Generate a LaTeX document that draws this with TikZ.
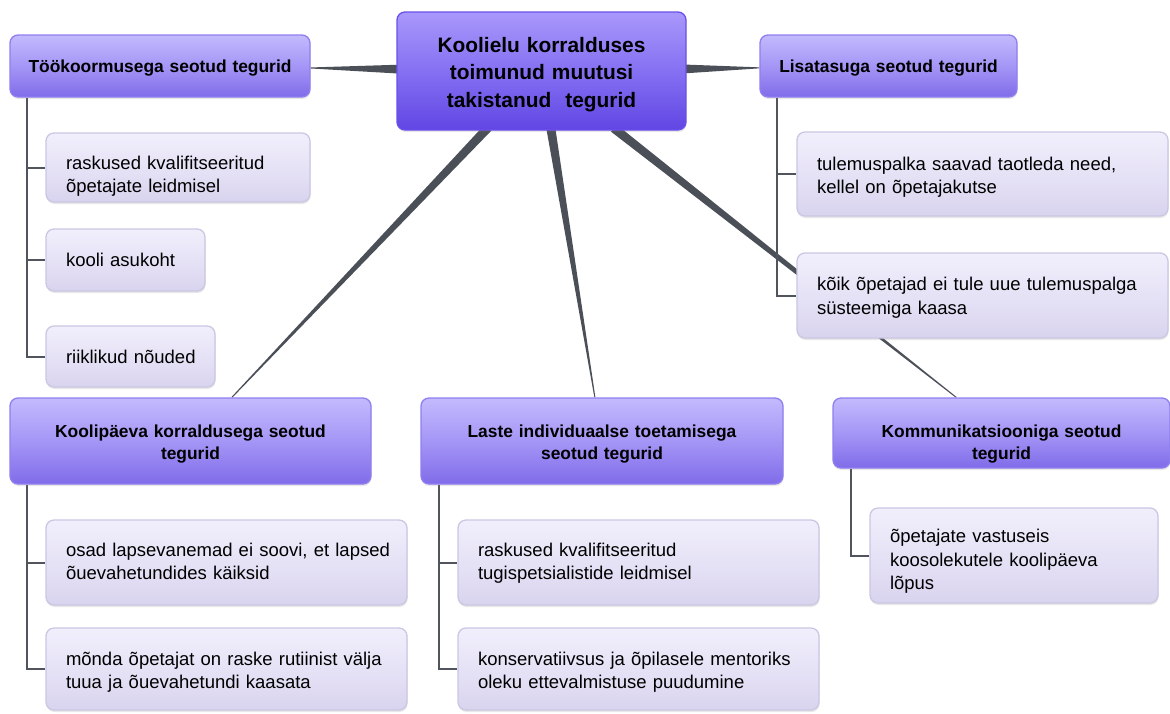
\documentclass[tikz,border=0pt]{standalone}
\usepackage{fontspec}
\setmainfont{Liberation Sans}
\usetikzlibrary{calc,backgrounds,shadows}
\definecolor{conn}{HTML}{4B4F58}
\definecolor{trunkc}{HTML}{50545C}
\definecolor{hdrT}{HTML}{C3BAFD}
\definecolor{hdrM}{HTML}{A496F6}
\definecolor{hdrBo}{HTML}{806CE9}
\definecolor{hdrB}{HTML}{8E7FF0}
\definecolor{ctrT}{HTML}{A998FB}
\definecolor{ctrM}{HTML}{8570F2}
\definecolor{ctrBo}{HTML}{6146E4}
\definecolor{ctrB}{HTML}{6A50EA}
\definecolor{leafT}{HTML}{F1EFFC}
\definecolor{leafM}{HTML}{E6E2F6}
\definecolor{leafBo}{HTML}{D9D4EE}
\definecolor{leafB}{HTML}{CCC6E3}
\newcommand\taper[2]{%
  \path (c) -- (#2) coordinate[pos=0] (cs#1) coordinate[pos=1] (ct#1);
  \fill[conn] ($(cs#1)!-4pt!(ct#1)$) coordinate (cu#1)
    ($(cu#1)!4.5pt!90:(ct#1)$) -- ($(ct#1)!0.5pt!-90:(cu#1)$) -- ($(ct#1)!0.5pt!90:(cu#1)$) -- ($(cu#1)!4.5pt!-90:(ct#1)$) -- cycle;}
\newcommand\oneline[1]{\mbox{#1}}
\begin{document}
\begin{tikzpicture}[x=1pt,y=-1pt,
  base/.style={rounded corners=8pt, inner sep=0pt, line width=1.3pt,
    drop shadow={shadow xshift=0.5pt,shadow yshift=-2pt,opacity=0.18}},
  hdr/.style={base, draw=hdrB, top color=hdrT, bottom color=hdrBo, middle color=hdrM,
    font=\bfseries\fontsize{17.4}{22.5}\selectfont, align=center},
  ctr/.style={base, draw=ctrB, top color=ctrT, bottom color=ctrBo, middle color=ctrM,
    font=\bfseries\fontsize{20.9}{27.5}\selectfont, align=center},
  leaf/.style={base, draw=leafB, top color=leafT, bottom color=leafBo, middle color=leafM,
    font=\fontsize{18.5}{23.5}\selectfont, align=left, inner xsep=20pt},
  trunk/.style={draw=trunkc, line width=2pt}]
\useasboundingbox (0,0) rectangle (1170,713);
% central node
\node[ctr, minimum width=289pt, minimum height=118pt, text width=280pt, text depth=52.4pt] (c) at (541.5,71)
  {Koolielu korralduses\\toimunud muutusi\\takistanud~ tegurid};
% headers
\node[hdr, minimum width=300pt, minimum height=62pt, text width=290pt, text depth=-1pt] (h1) at (160,66) {Töökoormusega seotud tegurid};
\node[hdr, minimum width=257pt, minimum height=62pt, text width=250pt, text depth=-1pt] (h2) at (888.5,66) {Lisatasuga seotud tegurid};
\node[hdr, minimum width=361pt, minimum height=86pt, text width=350pt, text depth=20.2pt] (h3) at (190.5,441) {Koolipäeva korraldusega seotud\\tegurid};
\node[hdr, minimum width=362pt, minimum height=86pt, text width=350pt, text depth=20.2pt] (h4) at (602,441) {Laste individuaalse toetamisega\\seotud tegurid};
\node[hdr, minimum width=337pt, minimum height=70pt, text width=330pt, text depth=4.2pt] (h5) at (1001.5,433) {Kommunikatsiooniga seotud\\tegurid};
% leaves
\node[leaf, minimum height=69pt, text width=224pt, text depth=10pt] (l1) at (178,167.5) {\oneline{raskused kvalifitseeritud}\\\oneline{õpetajate leidmisel}};
\node[leaf, minimum height=62pt, text width=119pt, text depth=-1pt] (l2) at (125.5,260) {\oneline{kooli asukoht}};
\node[leaf, minimum height=61pt, text width=129pt, text depth=-1pt] (l3) at (130.5,356.5) {\oneline{riiklikud nõuded}};
\node[leaf, minimum height=84pt, text width=331pt, text depth=21.4pt] (r1) at (982.5,174) {\oneline{tulemuspalka saavad taotleda need,}\\\oneline{kellel on õpetajakutse}};
\node[leaf, minimum height=85pt, text width=331pt, text depth=23.4pt] (r2) at (982.5,295.5) {\oneline{kõik õpetajad ei tule uue tulemuspalga}\\\oneline{süsteemiga kaasa}};
\node[leaf, minimum height=85pt, text width=321pt, text depth=26pt] (k1) at (226.5,562.5) {\oneline{osad lapsevanemad ei soovi, et lapsed}\\\oneline{õuevahetundides käiksid}};
\node[leaf, minimum height=82pt, text width=321pt, text depth=21.4pt] (k2) at (226.5,669) {\oneline{mõnda õpetajat on raske rutiinist välja}\\\oneline{tuua ja õuevahetundi kaasata}};
\node[leaf, minimum height=85pt, text width=321pt, text depth=26pt] (s1) at (638.5,562.5) {\oneline{raskused kvalifitseeritud}\\\oneline{tugispetsialistide leidmisel}};
\node[leaf, minimum height=82pt, text width=321pt, text depth=21.4pt] (s2) at (638.5,669) {\oneline{konservatiivsus ja õpilasele mentoriks}\\\oneline{oleku ettevalmistuse puudumine}};
\node[leaf, minimum height=95pt, text width=248pt, text depth=38.9pt] (m1) at (1014,555.5) {\oneline{õpetajate vastuseis}\\\oneline{koosolekutele koolipäeva}\\\oneline{lõpus}};
% connectors
\begin{scope}[on background layer]
  \taper{1}{h1}
  \taper{2}{h2}
  \taper{3}{h3}
  \taper{4}{h4}
  \taper{5}{h5}
  \draw[trunk] ([xshift=18pt]h1.south west) |- (l1.west);
  \draw[trunk] ([xshift=18pt]h1.south west) |- (l2.west);
  \draw[trunk] ([xshift=18pt]h1.south west) |- (l3.west);
  \draw[trunk] ([xshift=18pt]h2.south west) |- (r1.west);
  \draw[trunk] ([xshift=18pt]h2.south west) |- (r2.west);
  \draw[trunk] ([xshift=18pt]h3.south west) |- (k1.west);
  \draw[trunk] ([xshift=18pt]h3.south west) |- (k2.west);
  \draw[trunk] ([xshift=19pt]h4.south west) |- (s1.west);
  \draw[trunk] ([xshift=19pt]h4.south west) |- (s2.west);
  \draw[trunk] ([xshift=19pt]h5.south west) |- (m1.west);
\end{scope}
\end{tikzpicture}
\end{document}
